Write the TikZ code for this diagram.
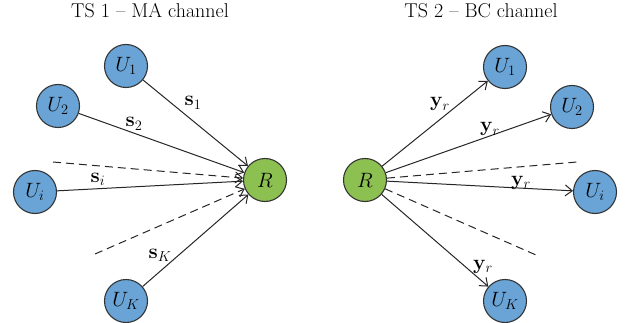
\documentclass[tikz,border=0pt]{standalone}
\usepackage{amsmath}
\usetikzlibrary{arrows.meta}
\definecolor{userblue}{RGB}{106,164,214}
\definecolor{relaygreen}{RGB}{140,193,82}
\begin{document}
\begin{tikzpicture}[x=1pt, y=-1pt,
  user/.style={circle, draw=black!80, line width=1.1pt, fill=userblue, minimum size=43pt, inner sep=0pt, font=\fontsize{21}{24}\selectfont},
  relay/.style={user, fill=relaygreen},
  link/.style={line width=1pt, black!85},
  guess/.style={link, dash pattern=on 8pt off 5pt},
  lab/.style={font=\fontsize{21}{24}\selectfont, inner sep=0pt, anchor=base},
  >={Straight Barb[length=7pt, width=11pt]}]
\useasboundingbox (0,0) rectangle (628,323);
% TS 1 - multiple access
\node[font=\fontsize{20}{24}\selectfont, anchor=base] (T1) at (150,18) {TS 1 -- MA channel};
\node[relay] (R1) at (265,180) {$R$};
\node[user] (A1) at (126,66) {$U_1$};
\node[user] (A2) at (58,106) {$U_2$};
\node[user] (Ai) at (35,192) {$U_i$};
\node[user] (AK) at (126,301) {$U_K$};
\coordinate (D1) at (53,162);
\coordinate (D2) at (95,254);
\draw[link, ->] (A1) -- (R1);
\draw[link, ->] (A2) -- (R1);
\draw[link, ->] (Ai) -- (R1);
\draw[link, ->] (AK) -- (R1);
\draw[guess, ->] (D1) -- (R1);
\draw[guess, ->] (D2) -- (R1);
\node[lab] (S1) at (193,106) {$\mathbf{s}_1$};
\node[lab] (S2) at (134,127) {$\mathbf{s}_2$};
\node[lab] (Si) at (98,182) {$\mathbf{s}_i$};
\node[lab] (SK) at (160,258) {$\mathbf{s}_K$};
% TS 2 - broadcast
\node[font=\fontsize{20}{24}\selectfont, anchor=base] (T2) at (481,18) {TS 2 -- BC channel};
\node[relay] (R2) at (365,180) {$R$};
\node[user] (B1) at (505,67) {$U_1$};
\node[user] (B2) at (572,107) {$U_2$};
\node[user] (Bi) at (595,192) {$U_i$};
\node[user] (BK) at (505,301) {$U_K$};
\coordinate (D3) at (577,162);
\coordinate (D4) at (536,255);
\draw[link, ->] (R2) -- (B1);
\draw[link, ->] (R2) -- (B2);
\draw[link, ->] (R2) -- (Bi);
\draw[link, ->] (R2) -- (BK);
\draw[guess] (R2) -- (D3);
\draw[guess] (R2) -- (D4);
\node[lab] (Y1) at (440,107) {$\mathbf{y}_r$};
\node[lab] (Y2) at (490,132) {$\mathbf{y}_r$};
\node[lab] (Yi) at (521,185) {$\mathbf{y}_r$};
\node[lab] (YK) at (483,269) {$\mathbf{y}_r$};
\end{tikzpicture}
\end{document}
